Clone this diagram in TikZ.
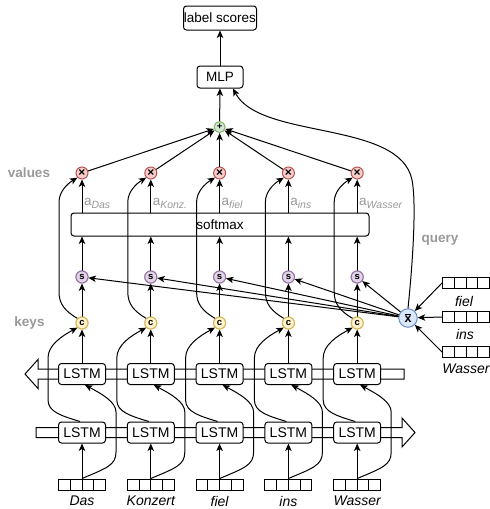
\documentclass[tikz,border=0pt]{standalone}
\usepackage{fontspec}
\setmainfont{Liberation Sans}
\usetikzlibrary{arrows.meta,calc}
\definecolor{tfill}{HTML}{F8CECC}\definecolor{tdraw}{HTML}{B85450}
\definecolor{cfill}{HTML}{FFF2CC}\definecolor{cdraw}{HTML}{D6B656}
\definecolor{sfill}{HTML}{E1D5E7}\definecolor{sdraw}{HTML}{9673A6}
\definecolor{pfill}{HTML}{D5E8D4}\definecolor{pdraw}{HTML}{82B366}
\definecolor{xfill}{HTML}{DAE8FC}\definecolor{xdraw}{HTML}{6C8EBF}
\definecolor{lbl}{HTML}{999999}
\begin{document}
\begin{tikzpicture}[x=1pt,y=-1pt,
  line width=1pt,
  arr/.style={-{Stealth[length=7.5pt,width=6.5pt,inset=2pt]}},
  box/.style={draw, rounded corners=3pt, fill=white, inner sep=0pt, font=\fontsize{13.5}{15}\selectfont},
  lstm/.style={box, minimum width=47pt, minimum height=21pt, font=\fontsize{14}{15}\selectfont},
  op/.style={circle, draw=#1draw, fill=#1fill, minimum size=12pt, inner sep=0pt, line width=1pt, font=\fontsize{9.5}{10}\selectfont\bfseries},
  vec/.style={draw, fill=white, minimum width=47pt, minimum height=11pt, inner sep=0pt,
    path picture={\foreach \k in {11.75,23.5,35.25}{\draw ([xshift=\k pt]path picture bounding box.south west) -- ([xshift=\k pt]path picture bounding box.north west);}}},
  word/.style={font=\fontsize{14}{16}\selectfont\itshape},
  side/.style={text=lbl, font=\fontsize{13.5}{15}\selectfont\bfseries},
  band/.style={draw, fill=white, line width=1pt}
]
\useasboundingbox[fill=white] (0,0) rectangle (490,509);

% bands
\draw[band] (404,369) -- (38,369) -- (38,359.5) -- (25,374) -- (38,388.5) -- (38,379) -- (404,379) -- cycle;
\draw[band] (36,427.5) -- (402,427.5) -- (402,418) -- (415,432.5) -- (402,447) -- (402,437.5) -- (36,437.5) -- cycle;

% top
\node[box, minimum width=73pt, minimum height=24pt] (ls) at (220,18) {label scores};
\node[box, minimum width=46pt, minimum height=22pt] (mlp) at (220,77) {MLP};
\node[op=p, minimum size=11pt] (plus) at (219.6,127) {+};
\node[box, minimum width=298pt, minimum height=23pt] (sm) at (220,224.5) {softmax};
\node[op=x, minimum size=18.5pt, font=\fontsize{12.5}{13}\selectfont] (xb) at (408,318) {$\overline{\mathbf{x}}$};

\node[side] (lv) at (29,173) {values};
\node[side] (lk) at (29.5,323) {keys};
\node[side] (lq) at (440,240) {query};

% query vectors
\node[vec] (q1) at (466,283) {};
\node[vec] (q2) at (466,317) {};
\node[vec] (q3) at (466,352) {};
\node[word] (qw1) at (464,301) {fiel};
\node[word] (qw2) at (465,334) {ins};
\node[word] (qw3) at (466,369) {Wasser};
\draw[arr] (q1.west) -- (xb);
\draw[arr] (q2.west) -- (xb);
\draw[arr] (q3.west) -- (xb);

\foreach \i/\x/\w/\a in {1/82/Das/Das,2/150.8/Konzert/Konz.,3/219.6/fiel/fiel,4/288.4/ins/ins,5/357.2/Wasser/Wasser}{
  \node[vec] (v\i) at (\x,484.5) {};
  \node[word] (w\i) at (\x,501) {\w};
  \node[lstm] (ll\i) at (\x,432.5) {LSTM};
  \node[lstm] (lu\i) at (\x,374) {LSTM};
  \node[op=c] (c\i) at (\x,323) {c};
  \node[op=s] (s\i) at (\x,277) {s};
  \node[op=t] (t\i) at (\x,173) {\fontsize{12}{12}\selectfont ×};
  \node[anchor=base west, inner sep=0pt, text=lbl, font=\fontsize{13.5}{15}\selectfont] (al\i) at ({\x+1.5},205) {a\raisebox{-3.5pt}{\fontsize{10.5}{12}\selectfont\itshape\a}};
}

\foreach \i/\x in {1/82,2/150.8,3/219.6,4/288.4,5/357.2}{
  % input to forward LSTM
  \draw[arr] (v\i.north) -- (ll\i.south);
  % input to backward LSTM
  \draw[arr] (v\i.north) .. controls ({\x+25},468) and ({\x+34},465) .. ({\x+34},452) -- ({\x+34},412) .. controls ({\x+34},402) and ({\x+20},394) .. ([xshift=3pt]lu\i.south);
  % forward output to c
  \draw[arr] ([xshift=-2pt]ll\i.north) .. controls ({\x-20},416) and ({\x-34},412) .. ({\x-34},400) -- ({\x-34},358) .. controls ({\x-34},345) and ({\x-20},336) .. (c\i.south west);
  % backward output to c
  \draw[arr] (lu\i.north) -- (c\i);
  % c to x (value)
  \draw[arr] (c\i.north west) .. controls ({\x-17},311) and ({\x-23},304) .. ({\x-23},292) -- ({\x-23},202) .. controls ({\x-23},192) and ({\x-15},184) .. (t\i.south west);
  % keys
  \draw[arr] (c\i) -- (s\i);
  \draw[arr] (s\i) -- (s\i |- sm.south);
  \draw[arr] (t\i |- sm.north) -- (t\i);
  \draw[arr] (xb) -- (s\i);
  \draw[arr] (t\i) -- (plus);
}
% redraw nodes over lines
\foreach \i/\x in {1/82,2/150.8,3/219.6,4/288.4,5/357.2}{
  \node[op=c] at (c\i) {c};
  \node[op=s] at (s\i) {s};
}
\draw[arr] (plus) -- (mlp);
\draw[arr] (mlp) -- (ls);
\draw[arr] (xb.north) .. controls (414,250) and (416,200) .. (412,180) .. controls (400,120) and (260,140) .. ([xshift=13pt]mlp.south);
\end{tikzpicture}
\end{document}
